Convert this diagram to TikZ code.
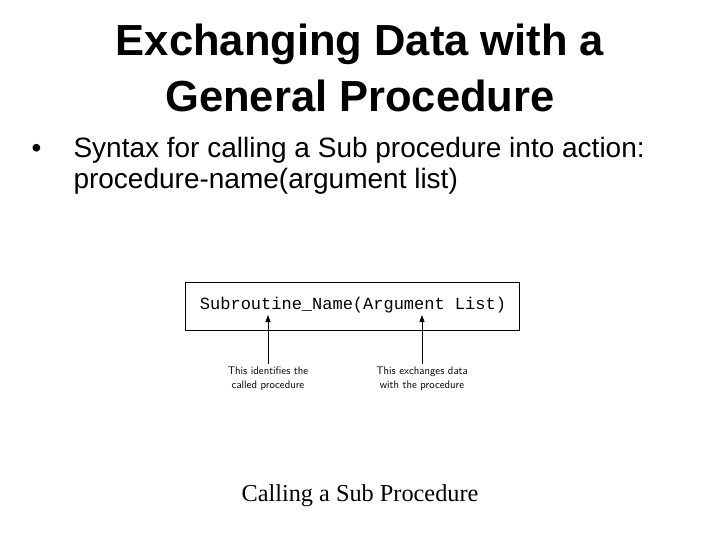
\documentclass[tikz,border=0pt]{standalone}
\usepackage{fontspec}
\setmainfont{Liberation Sans}
\newfontfamily\serifx{Liberation Serif}
\newfontfamily\monox{Liberation Mono}
\usetikzlibrary{arrows.meta}
\begin{document}
\begin{tikzpicture}[x=1pt,y=-1pt,
  ttl/.style={font=\fontsize{43.5}{48}\selectfont\bfseries},
  body/.style={font=\fontsize{28}{32}\selectfont,anchor=base west},
  lbl/.style={font=\fontsize{11}{14}\selectfont\sffamily,align=center},
  arr/.style={-{Triangle[length=7pt,width=5pt]},line width=0.8pt}]
\useasboundingbox (0,0) rectangle (720,540);
\node[ttl] (t1) at (360,44) {Exchanging Data with a};
\node[ttl] (t2) at (360,96) {General Procedure};
\node[body] (b0) at (28,158) {•};
\node[body] (b1) at (70,158) {Syntax for calling a Sub procedure into action:};
\node[body] (b2) at (70,189) {procedure-name(argument list)};
\node[draw,line width=0.8pt,minimum width=334pt,minimum height=48pt,inner sep=0pt] (box) at (352,306) {};
\node[font=\monox\fontsize{17}{19}\selectfont] (code) at (353,305) {Subroutine\_Name(Argument List)};
\node[lbl] (l1) at (268,379) {This identifies the\\called procedure};
\node[lbl] (l2) at (422,379) {This exchanges data\\with the procedure};
\coordinate (a1) at (268,315);
\coordinate (a2) at (422,315);
\draw[arr] (l1.north -| a1) -- (a1);
\draw[arr] (l2.north -| a2) -- (a2);
\node[font=\serifx\fontsize{24.3}{28}\selectfont] (cap) at (360,496) {Calling a Sub Procedure};
\end{tikzpicture}
\end{document}
